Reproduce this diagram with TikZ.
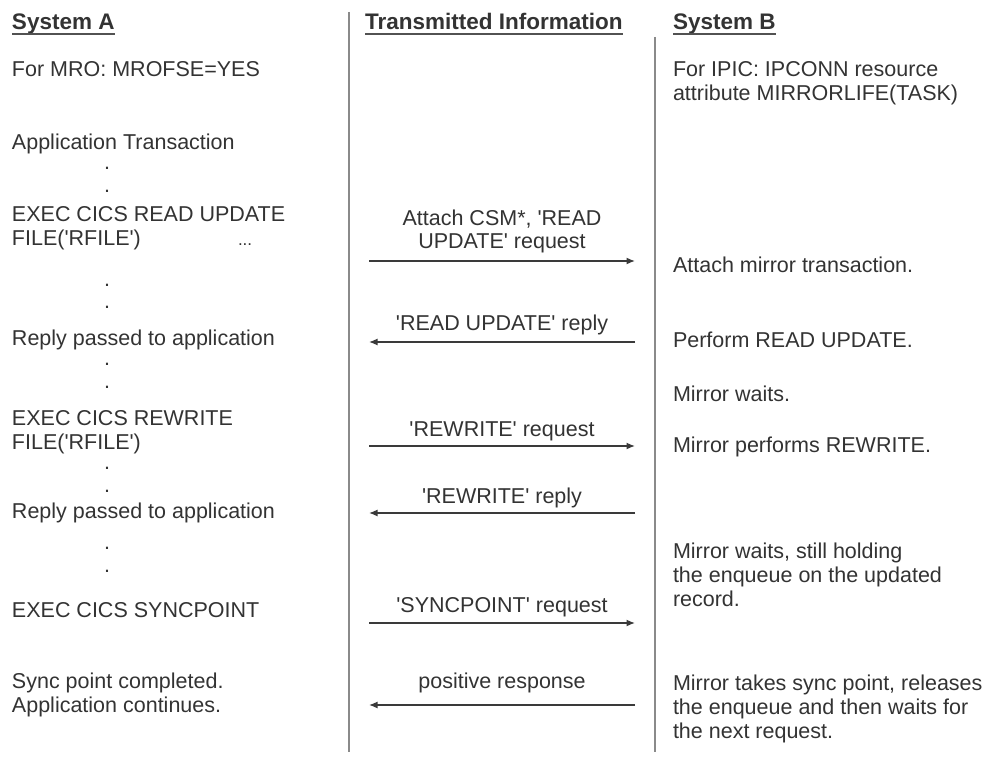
\documentclass[tikz,border=0pt]{standalone}
\usepackage{fontspec}
\setmainfont{Liberation Sans}[Ligatures=TeXOff]
\usetikzlibrary{arrows.meta}
\definecolor{txt}{HTML}{333333}
\definecolor{rulec}{HTML}{8A8A8A}
\definecolor{arr}{HTML}{3A3A3A}
\begin{document}
\begin{tikzpicture}[x=1pt,y=-1pt,
  every node/.style={inner sep=0pt, outer sep=0pt, text=txt},
  lbl/.style={font=\fontsize{21.5}{24}\selectfont, align=left, anchor=base west},
  hdr/.style={font=\fontsize{22.5}{26}\selectfont\bfseries, anchor=base west},
  ctr/.style={font=\fontsize{21.5}{23.5}\selectfont, align=center, anchor=base},
  dotn/.style={font=\fontsize{21.5}{24}\selectfont, anchor=base},
  sepline/.style={draw=rulec, line width=2pt},
  ul/.style={draw=txt!85, line width=1.6pt},
  msg/.style={draw=arr, line width=1.4pt, -{Latex[length=8.5pt,width=7pt]}},
]
\useasboundingbox (0,0) rectangle (994,765);
\fill[white] (0,0) rectangle (994,765);

% headers
\node[hdr] (ha) at (12,30) {System A};
\node[hdr] (ht) at (365,30) {Transmitted Information};
\node[hdr] (hb) at (673,30) {System B};
\foreach \h in {ha,ht,hb}
  \draw[ul] ([yshift=-3.8pt]\h.base west) -- ([yshift=-3.8pt]\h.base east);

% separators
\coordinate (s1t) at (349,12);  \coordinate (s1b) at (349,752);
\coordinate (s2t) at (655,37);  \coordinate (s2b) at (655,752);
\draw[sepline] (s1t) -- (s1b);
\draw[sepline] (s2t) -- (s2b);

% System A column (base anchor of a multi-line node = baseline of its last line)
\node[lbl] (a1) at (12,77) {For MRO: MROFSE=YES};
\node[lbl] (a2) at (12,150) {Application Transaction};
\node[dotn] (d1) at (107,170) {.};
\node[dotn] (d2) at (107,193) {.};
\node[lbl] (a3) at (12,245) {EXEC CICS READ UPDATE\\FILE('RFILE')};
\node[font=\fontsize{17}{20}\selectfont, anchor=base west] (a3d) at (238,245) {...};
\node[dotn] (d3) at (107,286) {.};
\node[dotn] (d4) at (107,308) {.};
\node[lbl] (a4) at (12,345) {Reply passed to application};
\node[dotn] (d5) at (107,365) {.};
\node[dotn] (d6) at (107,388) {.};
\node[lbl] (a5) at (12,449) {EXEC CICS REWRITE\\FILE('RFILE')};
\node[dotn] (d7) at (107,469) {.};
\node[dotn] (d8) at (107,492) {.};
\node[lbl] (a6) at (12,518) {Reply passed to application};
\node[dotn] (d9) at (107,549) {.};
\node[dotn] (d10) at (107,572) {.};
\node[lbl] (a7) at (12,617) {EXEC CICS SYNCPOINT};
\node[lbl] (a8) at (12,712) {Sync point completed.\\Application continues.};

% Transmitted information column
\coordinate (l1) at (369,261); \coordinate (r1) at (635,261);
\coordinate (l2) at (369,342); \coordinate (r2) at (635,342);
\coordinate (l3) at (369,446); \coordinate (r3) at (635,446);
\coordinate (l4) at (369,513); \coordinate (r4) at (635,513);
\coordinate (l5) at (369,623); \coordinate (r5) at (635,623);
\coordinate (l6) at (369,705); \coordinate (r6) at (635,705);
\node[ctr] (t1) at (502,248.5) {Attach CSM*, 'READ\\UPDATE' request};
\node[ctr] (t2) at (502,330) {'READ UPDATE' reply};
\node[ctr] (t3) at (502,436) {'REWRITE' request};
\node[ctr] (t4) at (502,503) {'REWRITE' reply};
\node[ctr] (t5) at (502,612) {'SYNCPOINT' request};
\node[ctr] (t6) at (502,688) {positive response};
\draw[msg] (l1) -- (r1);
\draw[msg] (r2) -- (l2);
\draw[msg] (l3) -- (r3);
\draw[msg] (r4) -- (l4);
\draw[msg] (l5) -- (r5);
\draw[msg] (r6) -- (l6);

% System B column
\node[lbl] (b1) at (673,101) {For IPIC: IPCONN resource\\attribute MIRRORLIFE(TASK)};
\node[lbl] (b2) at (673,272) {Attach mirror transaction.};
\node[lbl] (b3) at (673,347) {Perform READ UPDATE.};
\node[lbl] (b4) at (673,401) {Mirror waits.};
\node[lbl] (b5) at (673,452) {Mirror performs REWRITE.};
\node[lbl] (b6) at (673,606) {Mirror waits, still holding\\the enqueue on the updated\\record.};
\node[lbl] (b7) at (673,738) {Mirror takes sync point, releases\\the enqueue and then waits for\\the next request.};
\end{tikzpicture}
\end{document}
